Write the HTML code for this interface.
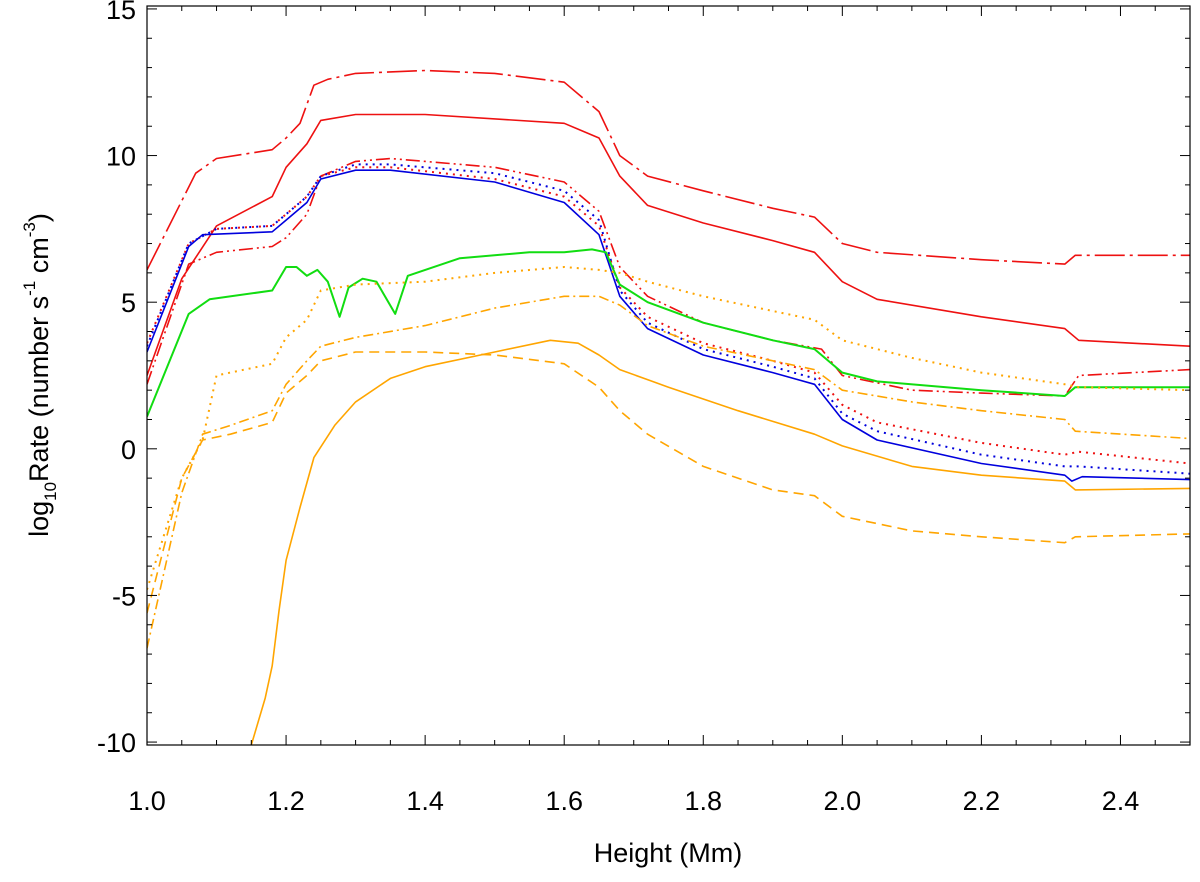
<!DOCTYPE html>
<html><head><meta charset="utf-8"><style>
body{margin:0;background:#fff;}
svg text{font-family:"Liberation Sans",Arial,sans-serif;fill:#000;}
</style></head><body>
<svg id="chart" width="1200" height="877" xmlns="http://www.w3.org/2000/svg">
<defs><clipPath id="clip"><rect x="147" y="6" width="1043" height="739"/></clipPath></defs>
<g id="plot" clip-path="url(#clip)"></g>
<rect x="147" y="6" width="1043" height="739" fill="none" stroke="#000" stroke-width="1.2"/>
<g id="axes"></g>
<text x="668" y="862" font-size="27" text-anchor="middle">Height (Mm)</text>
<text transform="translate(48,375) rotate(-90)" font-size="27" text-anchor="middle">log<tspan font-size="17" dy="8">10</tspan><tspan dy="-8">Rate (number s</tspan><tspan font-size="17" dy="-13">-1</tspan><tspan dy="13"> cm</tspan><tspan font-size="17" dy="-13">-3</tspan><tspan dy="13">)</tspan></text>
</svg>
<script>
const xTicks=[1.0,1.2,1.4,1.6,1.8,2.0,2.2,2.4];
const xTickLabels=["1.0","1.2","1.4","1.6","1.8","2.0","2.2","2.4"];
const yTicks=[15,10,5,0,-5,-10];
const yTickLabels=["15","10","5","0","-5","-10"];
const redDashDotX=[1.0,1.07,1.1,1.18,1.2,1.22,1.24,1.26,1.3,1.4,1.5,1.6,1.65,1.68,1.72,1.8,1.9,1.96,2.0,2.05,2.2,2.32,2.335,2.5];
const redDashDotY=[6.1,9.4,9.9,10.2,10.6,11.1,12.4,12.6,12.8,12.9,12.8,12.5,11.5,10,9.3,8.8,8.2,7.9,7.0,6.7,6.45,6.3,6.6,6.6];
const redSolidX=[1.0,1.05,1.1,1.18,1.2,1.23,1.25,1.3,1.4,1.6,1.65,1.68,1.72,1.8,1.9,1.96,2.0,2.05,2.2,2.32,2.34,2.5];
const redSolidY=[2.5,5.8,7.6,8.6,9.6,10.4,11.2,11.4,11.4,11.1,10.6,9.3,8.3,7.7,7.1,6.7,5.7,5.1,4.5,4.1,3.7,3.5];
const redDDDX=[1.0,1.06,1.1,1.18,1.2,1.23,1.25,1.3,1.35,1.5,1.6,1.65,1.68,1.72,1.8,1.9,1.97,2.0,2.1,2.2,2.32,2.34,2.5];
const redDDDY=[2.2,6.3,6.7,6.9,7.2,8.0,9.3,9.8,9.9,9.6,9.1,8.1,6.2,5.2,4.3,3.7,3.4,2.5,2.0,1.9,1.8,2.5,2.7];
const redDotX=[1.0,1.06,1.1,1.18,1.2,1.23,1.25,1.3,1.35,1.5,1.6,1.65,1.68,1.72,1.8,1.9,1.96,2.0,2.05,2.2,2.32,2.34,2.5];
const redDotY=[3.6,7.0,7.5,7.6,8.0,8.6,9.3,9.6,9.6,9.2,8.6,7.6,5.5,4.5,3.6,3.0,2.6,1.5,0.9,0.2,-0.2,-0.1,-0.5];
const blueDotX=[1.0,1.06,1.1,1.18,1.2,1.23,1.25,1.3,1.35,1.5,1.6,1.65,1.68,1.72,1.8,1.9,1.96,2.0,2.05,2.2,2.32,2.34,2.5];
const blueDotY=[3.5,7.0,7.5,7.6,8.0,8.6,9.3,9.7,9.7,9.4,8.8,7.8,5.4,4.3,3.4,2.8,2.4,1.2,0.6,-0.2,-0.6,-0.6,-0.85];
const blueSolidX=[1.0,1.06,1.08,1.18,1.2,1.23,1.25,1.3,1.35,1.5,1.6,1.65,1.68,1.72,1.8,1.9,1.96,2.0,2.05,2.2,2.32,2.33,2.345,2.5];
const blueSolidY=[3.3,6.9,7.3,7.4,7.8,8.4,9.2,9.5,9.5,9.1,8.4,7.3,5.2,4.1,3.2,2.6,2.2,1.0,0.3,-0.5,-0.9,-1.1,-0.95,-1.05];
const greenX=[1.0,1.06,1.09,1.18,1.2,1.215,1.23,1.245,1.26,1.277,1.29,1.31,1.33,1.357,1.375,1.45,1.55,1.6,1.64,1.66,1.68,1.72,1.8,1.9,1.96,2.0,2.05,2.2,2.32,2.335,2.5];
const greenY=[1.1,4.6,5.1,5.4,6.2,6.2,5.9,6.1,5.7,4.5,5.5,5.8,5.7,4.6,5.9,6.5,6.7,6.7,6.8,6.7,5.6,5.0,4.3,3.7,3.4,2.6,2.3,2.0,1.8,2.1,2.1];
const orDotX=[1.0,1.05,1.08,1.1,1.18,1.2,1.23,1.25,1.3,1.4,1.5,1.6,1.65,1.68,1.72,1.8,1.9,1.96,2.0,2.1,2.2,2.32,2.34,2.5];
const orDotY=[-4.8,-1.0,0.3,2.5,2.9,3.8,4.4,5.4,5.6,5.7,6.0,6.2,6.1,6.0,5.7,5.2,4.7,4.4,3.7,3.1,2.6,2.2,2.1,2.0];
const orDashDotX=[1.0,1.05,1.08,1.12,1.18,1.2,1.23,1.25,1.3,1.4,1.5,1.6,1.65,1.68,1.72,1.8,1.9,1.96,2.0,2.1,2.2,2.32,2.335,2.5];
const orDashDotY=[-6.8,-1.5,0.5,0.8,1.3,2.2,3.0,3.5,3.8,4.2,4.8,5.2,5.2,4.9,4.2,3.5,3.0,2.7,2.0,1.6,1.3,1.0,0.6,0.35];
const orDashX=[1.0,1.05,1.08,1.12,1.18,1.2,1.23,1.25,1.3,1.4,1.5,1.6,1.65,1.68,1.72,1.8,1.9,1.96,2.0,2.1,2.2,2.32,2.335,2.5];
const orDashY=[-5.6,-1.0,0.3,0.5,0.9,1.9,2.5,3.0,3.3,3.3,3.2,2.9,2.1,1.3,0.5,-0.6,-1.4,-1.6,-2.3,-2.8,-3.0,-3.2,-3.0,-2.9];
const orSolidX=[1.15,1.17,1.18,1.19,1.2,1.22,1.24,1.27,1.3,1.35,1.4,1.5,1.58,1.62,1.65,1.68,1.75,1.85,1.96,2.0,2.1,2.2,2.32,2.335,2.5];
const orSolidY=[-10.1,-8.5,-7.4,-5.5,-3.8,-2.0,-0.3,0.8,1.6,2.4,2.8,3.3,3.7,3.6,3.2,2.7,2.1,1.3,0.5,0.1,-0.6,-0.9,-1.1,-1.4,-1.35];

const X0=147,X1=1190,Y0=745,Y1=6,xmin=1.0,xmax=2.5,ymin=-10.1,ymax=15.1;
const sx=v=>X0+(v-xmin)/(xmax-xmin)*(X1-X0);
const sy=v=>Y0-(v-ymin)/(ymax-ymin)*(Y0-Y1);
const NS="http://www.w3.org/2000/svg";
const plot=document.getElementById('plot'),axes=document.getElementById('axes');
function line(xs,ys,color,dash,name,w){
  const p=document.createElementNS(NS,'path');
  p.setAttribute('d',xs.map((x,i)=>(i?'L':'M')+sx(x).toFixed(1)+' '+sy(ys[i]).toFixed(1)).join(''));
  p.setAttribute('fill','none');p.setAttribute('stroke',color);p.setAttribute('stroke-width',w||1.6);
  p.setAttribute('stroke-linejoin','round');
  if(dash)p.setAttribute('stroke-dasharray',dash);
  
  
  plot.appendChild(p);
}
const R='#ee1111',B='#0000dd',G='#11dd11',O='#ffa500';
line(redDashDotX,redDashDotY,R,'30 5 3 5','red-dash-dot-line');
line(redSolidX,redSolidY,R,null,'red-solid-line');
line(redDDDX,redDDDY,R,'14 4 2 4 2 4','red-dash-dot-dot-line');
line(redDotX,redDotY,R,'2 5','red-dotted-line',2);
line(blueDotX,blueDotY,B,'2 5','blue-dotted-line',2);
line(blueSolidX,blueSolidY,B,null,'blue-solid-line');
line(greenX,greenY,G,null,'green-solid-line',2);
line(orDotX,orDotY,O,'2 5','orange-dotted-line',2);
line(orDashDotX,orDashDotY,O,'10 4 2 4','orange-dash-dot-line');
line(orDashX,orDashY,O,'10 6','orange-dashed-line');
line(orSolidX,orSolidY,O,null,'orange-solid-line');
function tick(x1,y1,x2,y2){const l=document.createElementNS(NS,'line');l.setAttribute('x1',x1);l.setAttribute('y1',y1);l.setAttribute('x2',x2);l.setAttribute('y2',y2);l.setAttribute('stroke','#000');l.setAttribute('stroke-width',1);


axes.appendChild(l);}
for(let v=1.0;v<=2.501;v+=0.05){const x=sx(v);const maj=Math.abs(Math.round(v*10)%2)===0&&Math.abs(v*10-Math.round(v*10))<1e-6;const L=maj?10:5;tick(x,Y0,x,Y0-L);tick(x,Y1,x,Y1+L);}
for(let v=-10;v<=15;v++){const y=sy(v);const L=v%5===0?10:5;tick(X0,y,X0+L,y);tick(X1,y,X1-L,y);}
xTicks.forEach((v,i)=>{const t=document.createElementNS(NS,'text');t.setAttribute('x',sx(v));t.setAttribute('y',810);t.setAttribute('font-size',27);t.setAttribute('text-anchor','middle');t.textContent=xTickLabels[i];


axes.appendChild(t);});
yTicks.forEach((v,i)=>{const t=document.createElementNS(NS,'text');t.setAttribute('x',136);t.setAttribute('y',sy(v)+10);t.setAttribute('font-size',27);t.setAttribute('text-anchor','end');t.textContent=yTickLabels[i];


axes.appendChild(t);});
</script>
</body></html>
